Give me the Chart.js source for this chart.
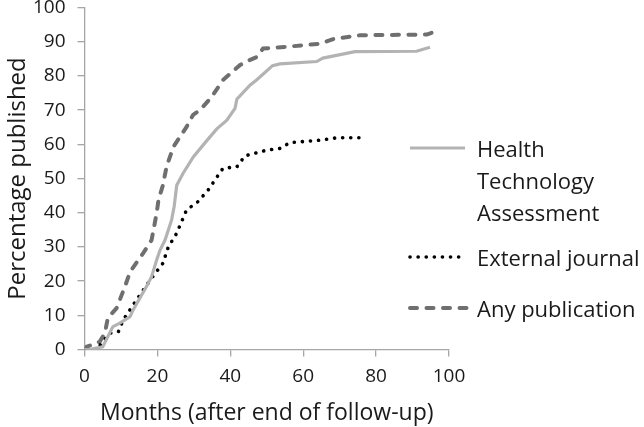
<!DOCTYPE html>
<html>
<head>
<meta charset="utf-8">
<script src="https://cdn.jsdelivr.net/npm/chart.js@4/dist/chart.umd.min.js"></script>
<style>
  html, body { margin: 0; padding: 0; background: #fff; }
  #wrap { position: relative; width: 644px; height: 427px; }
  #c { position: absolute; left: 0; top: 0; }
  .lg { position: absolute; font-family: "Open Sans", sans-serif; font-size: 22px; color: #1a1a1a; line-height: 32px; white-space: nowrap; }
  .sw { position: absolute; }
</style>
</head>
<body>
<div id="wrap">
  <canvas id="c" width="644" height="427"></canvas>
</div>
<script>
// ---- data ----
const xTicks = [0, 20, 40, 60, 80, 100];
const yTicks = [0, 10, 20, 30, 40, 50, 60, 70, 80, 90, 100];
const seriesNames = ["Health Technology Assessment", "External journal", "Any publication"];

const htaMonths = [0, 1.2, 5, 7.8, 9.7, 12.5, 13.3, 17, 18.4, 19.8, 20.7, 22.1, 23.9, 24.6, 25.3, 27.1, 29.9, 33.5, 36.3, 39, 41.3, 41.8, 45.4, 47.2, 51.6, 53.6, 63.7, 65.4, 74.2, 91.1, 94.8];
const htaPct    = [0, 0, 0.8, 6.7, 7.7, 9.6, 11.5, 18.4, 21.3, 26.2, 29, 32, 37.9, 41.8, 48, 51.6, 56.4, 61, 64.5, 67, 70.5, 73.2, 77.3, 78.8, 83, 83.5, 84.2, 85.2, 87.1, 87.2, 88.4];

const extMonths = [4.3, 7, 9.3, 10.6, 14.3, 18, 21.5, 23, 25.3, 28, 31.1, 33.9, 38, 41.8, 44, 50, 53.6, 56.4, 64.6, 69.2, 76.4];
const extPct    = [1.3, 4.8, 5.2, 8.6, 14.5, 20.3, 25.2, 30, 34, 40.8, 43.2, 46.6, 53, 53.4, 56.6, 58.3, 58.8, 60.5, 61.2, 61.9, 61.9];

const anyMonths = [0, 0.6, 4.2, 5.6, 6.4, 8.8, 11.1, 12.5, 16, 18.4, 19.8, 20.3, 21.5, 22.5, 24.4, 26.2, 28, 29.8, 31.7, 34.9, 38, 42.7, 45, 47.2, 49, 56.4, 64.6, 68.3, 75.6, 93.9, 95.2];
const anyPct    = [0, 0.8, 2.3, 4.8, 9.2, 12.1, 18.4, 22.7, 28, 32, 39.9, 43.7, 48, 53.4, 59.3, 62.2, 65.1, 68.6, 70, 73.9, 78.8, 83.2, 84.5, 85.5, 88, 88.6, 89.4, 90.8, 91.9, 92.1, 92.6];

const toPts = (xs, ys) => xs.map((x, i) => ({ x: x, y: ys[i] }));

const axisColor = '#a6a6a6';
const tickFont = { family: 'Open Sans', size: 19 };
const titleFont = { family: 'Open Sans', size: 23 };

new Chart(document.getElementById('c'), {
  type: 'line',
  data: {
    datasets: [
      { label: seriesNames[0], data: toPts(htaMonths, htaPct), borderColor: '#b3b3b3', borderWidth: 3.2, pointRadius: 0, tension: 0, fill: false },
      { label: seriesNames[1], data: toPts(extMonths, extPct), borderColor: '#000000', borderWidth: 3.6, borderDash: [0.1, 8], borderCapStyle: 'round', pointRadius: 0, tension: 0, fill: false },
      { label: seriesNames[2], data: toPts(anyMonths, anyPct), borderColor: '#6f6f6f', borderWidth: 4, borderDash: [7, 9.5], borderCapStyle: 'round', pointRadius: 0, tension: 0, fill: false }
    ]
  },
  options: {
    responsive: false,
    animation: false,
    layout: { padding: { left: 0, right: 195, top: 7.5, bottom: 0 } },
    plugins: { legend: { display: false }, tooltip: { enabled: false } },
    scales: {
      x: {
        type: 'linear', min: 0, max: 100,
        afterBuildTicks: s => { s.ticks = xTicks.map(v => ({ value: v })); },
        afterFit: s => { s.height = 77.5; s.paddingLeft = 0; s.paddingRight = 0; },
        grid: { display: true, drawOnChartArea: false, drawTicks: true, tickLength: 7, color: axisColor, lineWidth: 1.3 },
        border: { display: true, color: axisColor, width: 1.3 },
        ticks: { font: tickFont, color: '#1a1a1a', padding: 9, maxRotation: 0 },
        title: { display: true, text: 'Months (after end of follow-up)', font: titleFont, color: '#1a1a1a', padding: { top: 0, bottom: 0 } }
      },
      y: {
        type: 'linear', min: 0, max: 100,
        afterBuildTicks: s => { s.ticks = yTicks.map(v => ({ value: v })); },
        afterFit: s => { s.width = 84.5; s.paddingTop = 0; s.paddingBottom = 0; },
        grid: { display: true, drawOnChartArea: false, drawTicks: true, tickLength: 7, color: axisColor, lineWidth: 1.3 },
        border: { display: true, color: axisColor, width: 1.3 },
        ticks: { font: tickFont, color: '#1a1a1a', padding: 12 },
        title: { display: true, text: 'Percentage published', font: { family: 'Open Sans', size: 24 }, color: '#1a1a1a', padding: { top: 4, bottom: 0 } }
      }
    }
  }
});

// ---- legend (HTML) ----
const wrap = document.getElementById('wrap');
function swatch(y, x2, color, width, dash, cap) {
  const svg = document.createElementNS('http://www.w3.org/2000/svg', 'svg');
  svg.setAttribute('class', 'sw');
  svg.setAttribute('width', '70'); svg.setAttribute('height', '12');
  svg.style.left = '405px'; svg.style.top = (y - 6) + 'px';
  const ln = document.createElementNS('http://www.w3.org/2000/svg', 'line');
  ln.setAttribute('x1', 5); ln.setAttribute('x2', x2 - 405); ln.setAttribute('y1', 6); ln.setAttribute('y2', 6);
  ln.setAttribute('stroke', color); ln.setAttribute('stroke-width', width);
  if (dash) ln.setAttribute('stroke-dasharray', dash);
  ln.setAttribute('stroke-linecap', cap);
  svg.appendChild(ln);
  wrap.appendChild(svg);
}
function label(lines, top) {
  const d = document.createElement('div');
  d.className = 'lg';
  d.style.left = '477px'; d.style.top = top + 'px';
  d.innerHTML = lines.join('<br>');
  wrap.appendChild(d);
}
swatch(148, 465, '#b3b3b3', 3.2, null, 'butt');
label(['Health', 'Technology', 'Assessment'], 132);
swatch(257, 460, '#000', 3.6, '0.1 8', 'round');
label([seriesNames[1]], 241);
swatch(308, 468, '#6f6f6f', 4, '7 9.5', 'round');
label([seriesNames[2]], 292);
</script>
</body>
</html>
